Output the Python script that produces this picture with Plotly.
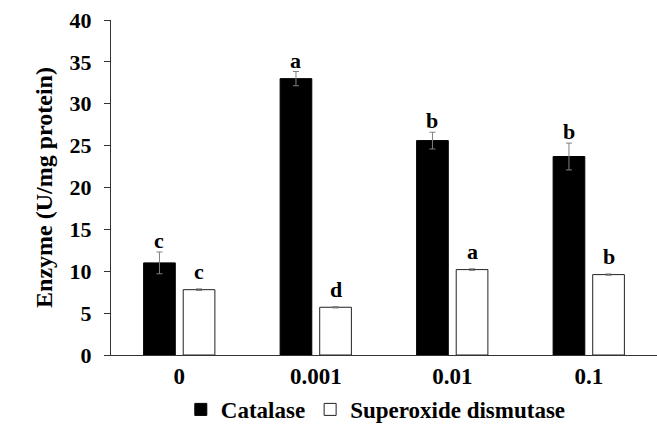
import plotly.graph_objects as go

categories = ["0", "0.001", "0.01", "0.1"]
catalase = [11.0, 33.0, 25.6, 23.7]
catalase_err = [1.3, 0.85, 1.0, 1.6]
catalase_letters = ["c", "a", "b", "b"]
sod = [7.8, 5.7, 10.2, 9.6]
sod_err = [0.1, 0.08, 0.1, 0.08]
sod_letters = ["c", "d", "a", "b"]
y_ticks = [0, 5, 10, 15, 20, 25, 30, 35, 40]

FONT = "Liberation Serif"

fig = go.Figure()
fig.add_trace(go.Bar(
    x=categories, y=catalase, name="Catalase",
    marker=dict(color="black", line=dict(color="black", width=1)),
    error_y=dict(type="data", array=catalase_err, color="#808080", thickness=1, width=3),
))
fig.add_trace(go.Bar(
    x=categories, y=sod, name="Superoxide dismutase",
    marker=dict(color="white", line=dict(color="#222222", width=1)),
    error_y=dict(type="data", array=sod_err, color="#808080", thickness=1, width=3),
))

for i, c in enumerate(categories):
    fig.add_annotation(x=i, y=catalase[i] + catalase_err[i], text=catalase_letters[i],
                       xref="x", yref="y", xshift=-20, yanchor="bottom", yshift=-3,
                       showarrow=False, font=dict(family=FONT, size=22, color="black", weight="bold"))
    fig.add_annotation(x=i, y=sod[i] + sod_err[i], text=sod_letters[i],
                       xref="x", yref="y", xshift=20, yanchor="bottom", yshift=3,
                       showarrow=False, font=dict(family=FONT, size=22, color="black", weight="bold"))

fig.update_layout(
    width=657, height=431,
    margin=dict(l=111, r=0, t=20, b=76, autoexpand=False),
    paper_bgcolor="white", plot_bgcolor="white",
    barmode="group", bargap=0.42, bargroupgap=0.2,
    font=dict(family=FONT, size=22, color="black", weight="bold"),
    showlegend=True,
    legend=dict(orientation="h", x=0.485, xanchor="center", yref="container", y=0.05, yanchor="middle",
                font=dict(family=FONT, size=23, color="black", weight="bold"),
                itemwidth=30, tracegroupgap=0),
    xaxis=dict(type="category", showline=True, linecolor="#333333", linewidth=1, ticks="",
               tickfont=dict(family=FONT, size=23, weight="bold"), showgrid=False,
               range=[-0.5, 3.5]),
    yaxis=dict(range=[0, 40], tickvals=y_ticks, showline=True, linecolor="#333333",
               linewidth=1, ticks="outside", ticklen=6, tickcolor="#333333",
               showgrid=False, zeroline=False, ticklabelstandoff=8,
               tickfont=dict(family=FONT, size=22, weight="bold"),
               title=dict(text="Enzyme (U/mg protein)", standoff=10,
                          font=dict(family=FONT, size=24, weight="bold"))),
)

fig.write_html("out.html", post_script="document.body.style.margin='0';",
               config={"displayModeBar": False})
